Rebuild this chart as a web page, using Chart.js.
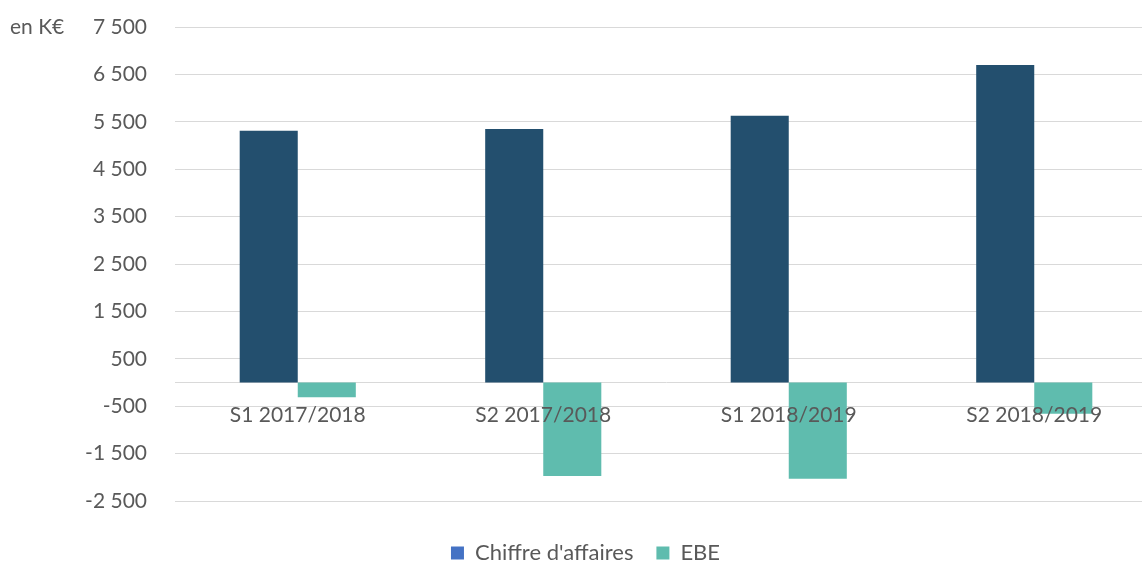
<!DOCTYPE html>
<html>
<head>
<meta charset="utf-8">
<script src="https://cdn.jsdelivr.net/npm/chart.js@4"></script>
<style>
  html, body { margin: 0; padding: 0; background: #fff; overflow: hidden; }
  #wrap { position: relative; width: 1184px; height: 563px; }
  #unit { position: absolute; left: 10px; top: 13px; font: 21px Lato, sans-serif; color: #595959; }
</style>
</head>
<body>
<div id="wrap">
  <canvas id="chart" width="1184" height="563"></canvas>
  <div id="unit">en K€</div>
</div>
<script>
let periods = ['S1 2017/2018', 'S2 2017/2018', 'S1 2018/2019', 'S2 2018/2019']
let chiffreAffaires = [5310, 5350, 5630, 6700]
let ebe = [-310, -1970, -2030, -660]

let textcolor = '#595959'
let gridcolor = '#d9d9d9'

function spaced(v) {
  let s = String(Math.abs(v)).replace(/\B(?=(\d{3})+(?!\d))/g, ' ')
  return (v < 0 ? '-' : '') + s
}

let ctx = document.getElementById('chart')
let mychart = new Chart(ctx, {
  type: 'bar',
  data: {
    labels: periods,
    datasets: [
      { label: "Chiffre d'affaires", data: chiffreAffaires, backgroundColor: '#234f6e', legendColor: '#4472c4' },
      { label: 'EBE', data: ebe, backgroundColor: '#5fbcae', legendColor: '#5fbcae' }
    ]
  },
  options: {
    responsive: false,
    animation: false,
    layout: { padding: { top: 27, bottom: -11, left: 14, right: 27 } },
    datasets: { bar: { categoryPercentage: 0.473, barPercentage: 1 } },
    scales: {
      x: {
        position: { y: 0 },
        afterFit: function (scale) { scale.height = 0 },
        grid: { display: false },
        border: { display: true, color: gridcolor, width: 1 },
        ticks: { z: 1, color: textcolor, font: { family: 'Lato', size: 21 }, padding: 12, maxRotation: 0 }
      },
      y: {
        min: -2500,
        max: 7500,
        afterFit: function (scale) { scale.width = 161 },
        // invisible tick marks keep the labels away from the plot
        grid: { color: gridcolor, lineWidth: 1, drawTicks: true, tickLength: 28, tickColor: 'rgba(0,0,0,0)' },
        border: { display: false },
        ticks: {
          stepSize: 1000,
          color: textcolor,
          padding: 0,
          font: { family: 'Lato', size: 21 },
          callback: function (v) { return spaced(v) }
        }
      }
    },
    plugins: {
      tooltip: { enabled: false },
      legend: {
        position: 'bottom',
        title: { display: true, text: ' ', font: { size: 10 }, padding: { top: 0, bottom: 6 } },
        labels: {
          color: textcolor,
          font: { family: 'Lato', size: 22 },
          boxWidth: 13,
          boxHeight: 13,
          padding: 23,
          generateLabels: function (chart) {
            return chart.data.datasets.map(function (d, i) {
              return { text: d.label, fillStyle: d.legendColor, strokeStyle: d.legendColor, lineWidth: 0, datasetIndex: i, fontColor: textcolor }
            })
          }
        }
      }
    }
  }
})
</script>
</body>
</html>
